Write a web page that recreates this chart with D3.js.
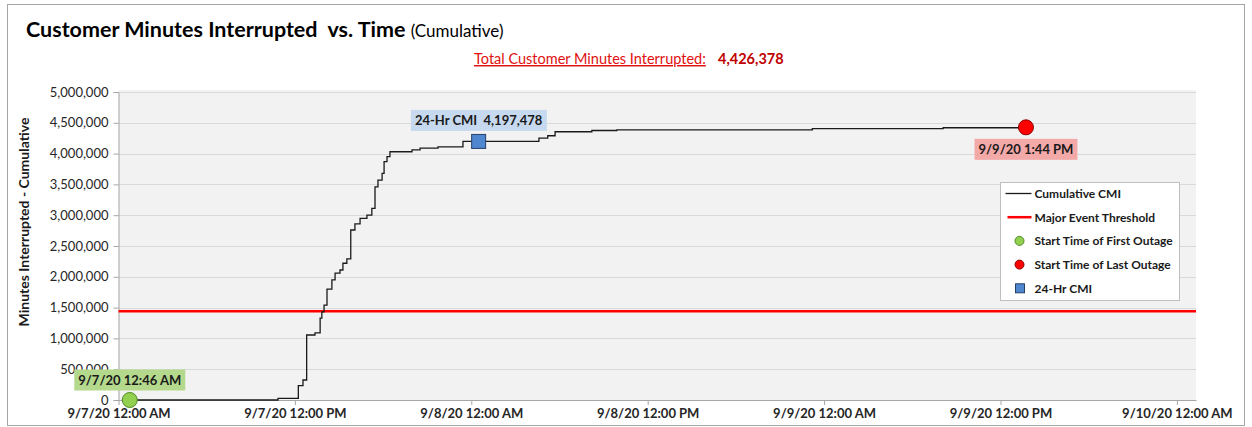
<!DOCTYPE html>
<html>
<head>
<meta charset="utf-8">
<script src="https://cdn.jsdelivr.net/npm/d3@7"></script>
<style>
  html, body { margin: 0; padding: 0; background: #ffffff; }
  svg { display: block; font-family: Lato, "Open Sans", sans-serif; }
</style>
</head>
<body>
<svg id="chart" width="1252" height="427"></svg>
<script>
// Cumulative customer minutes interrupted (step series)
const stepTimes = [
  "2020-09-07 00:46", "2020-09-07 10:51", "2020-09-07 12:14", "2020-09-07 12:33",
  "2020-09-07 12:48", "2020-09-07 13:22", "2020-09-07 13:43", "2020-09-07 13:50",
  "2020-09-07 13:59", "2020-09-07 14:11", "2020-09-07 14:31", "2020-09-07 14:44",
  "2020-09-07 15:04", "2020-09-07 15:16", "2020-09-07 15:32", "2020-09-07 15:48",
  "2020-09-07 16:05", "2020-09-07 16:26", "2020-09-07 16:54", "2020-09-07 17:14",
  "2020-09-07 17:27", "2020-09-07 17:39", "2020-09-07 17:56", "2020-09-07 18:04",
  "2020-09-07 18:16", "2020-09-07 18:28", "2020-09-07 19:58", "2020-09-07 20:31",
  "2020-09-07 21:44", "2020-09-07 23:26", "2020-09-08 04:36", "2020-09-08 05:12",
  "2020-09-08 05:42", "2020-09-08 08:12", "2020-09-08 09:54", "2020-09-08 23:12",
  "2020-09-09 08:06", "2020-09-09 13:44"
];
const cumulativeCMI = [
  0, 28000, 232000, 325000,
  1055000, 1090000, 1330000, 1430000,
  1540000, 1800000, 1950000, 2060000,
  2110000, 2220000, 2290000, 2760000,
  2860000, 2950000, 3000000, 3110000,
  3460000, 3570000, 3680000, 3870000,
  3950000, 4030000, 4060000, 4090000,
  4110000, 4197478, 4250000, 4290000,
  4355000, 4375000, 4385000, 4405000,
  4420000, 4426378
];

const majorEventThreshold = 1440000;
const totalCMI = 4426378;

const firstOutage = { time: "2020-09-07 00:46", value: 0, label: "9/7/20 12:46 AM" };
const lastOutage = { time: "2020-09-09 13:44", value: 4426378, label: "9/9/20 1:44 PM" };
const dayCMI = { time: "2020-09-08 00:30", value: 4197478, label: "24-Hr CMI  4,197,478" };

const yTicks = [0, 500000, 1000000, 1500000, 2000000, 2500000, 3000000, 3500000, 4000000, 4500000, 5000000];
const xTickTimes = ["2020-09-07 00:00", "2020-09-07 12:00", "2020-09-08 00:00", "2020-09-08 12:00",
                    "2020-09-09 00:00", "2020-09-09 12:00", "2020-09-10 00:00"];
const xDomain = ["2020-09-07 00:00", "2020-09-10 01:18"];

const legendItems = ["Cumulative CMI", "Major Event Threshold", "Start Time of First Outage",
                     "Start Time of Last Outage", "24-Hr CMI"];

const parse = d3.timeParse("%Y-%m-%d %H:%M");
const fmtTick = d => d3.timeFormat("%-m/%-d/%y %-I:%M %p")(d);

const svg = d3.select("#chart");
const plot = { left: 118.5, right: 1196, top: 92, bottom: 400 };

const x = d3.scaleTime().domain(xDomain.map(parse)).range([plot.left, plot.right]);
const y = d3.scaleLinear().domain([0, 5000000]).range([plot.bottom, plot.top]);

// chart frame
svg.append("rect").attr("x", 7.5).attr("y", 4.5).attr("width", 1237).attr("height", 421)
  .attr("fill", "#fff").attr("stroke", "#a6a6a6").attr("stroke-width", 1);

// plot background
svg.append("rect").attr("x", plot.left).attr("y", plot.top - 2)
  .attr("width", plot.right - plot.left).attr("height", plot.bottom - plot.top + 2)
  .attr("fill", "#f2f2f2");

// horizontal gridlines
svg.append("g").selectAll("line").data(yTicks.filter(v => v > 0)).join("line")
  .attr("x1", plot.left).attr("x2", plot.right)
  .attr("y1", d => Math.round(y(d)) + 0.5).attr("y2", d => Math.round(y(d)) + 0.5)
  .attr("stroke", "#d9d9d9").attr("stroke-width", 1);

// y axis
const yAxis = svg.append("g").attr("transform", `translate(${plot.left},0)`)
  .call(d3.axisLeft(y).tickValues(yTicks).tickFormat(d3.format(",")).tickSize(5).tickPadding(5));
yAxis.select(".domain").attr("stroke", "#a6a6a6");
yAxis.selectAll(".tick line").attr("stroke", "#a6a6a6");
yAxis.selectAll("text").attr("font-size", 13).attr("fill", "#262626")
  .attr("font-family", "Lato, sans-serif");

// x axis
const xAxis = svg.append("g").attr("transform", `translate(0,${plot.bottom})`)
  .call(d3.axisBottom(x).tickValues(xTickTimes.map(parse)).tickFormat(fmtTick).tickSize(5).tickPadding(4).tickSizeOuter(0));
xAxis.select(".domain").attr("stroke", "#a6a6a6");
xAxis.selectAll(".tick line").attr("stroke", "#a6a6a6");
xAxis.selectAll("text").attr("font-size", 13).attr("font-weight", "bold").attr("fill", "#262626")
  .attr("font-family", "Lato, sans-serif");

// major event threshold
svg.append("line").attr("x1", plot.left).attr("x2", plot.right)
  .attr("y1", y(majorEventThreshold)).attr("y2", y(majorEventThreshold))
  .attr("stroke", "#ff0000").attr("stroke-width", 2.5);

// cumulative CMI step line
const series = stepTimes.map((t, i) => ({ t: parse(t), v: cumulativeCMI[i] }));
svg.append("path").datum(series)
  .attr("fill", "none").attr("stroke", "#1a1a1a").attr("stroke-width", 1.3)
  .attr("d", d3.line().x(d => x(d.t)).y(d => y(d.v)).curve(d3.curveStepAfter));

// labelled callout helper
function callout(cx, cy, text, bg) {
  const g = svg.append("g");
  const t = g.append("text").attr("x", cx).attr("y", cy).attr("text-anchor", "middle")
    .attr("dominant-baseline", "central").attr("font-size", 13).attr("font-weight", "bold")
    .attr("fill", "#1a1a1a").attr("xml:space", "preserve").text(text);
  const b = t.node().getBBox();
  g.insert("rect", "text").attr("x", b.x - 4).attr("y", cy - 10.5)
    .attr("width", b.width + 8).attr("height", 21).attr("fill", bg);
}

// first outage
const fx = x(parse(firstOutage.time)), fy = y(firstOutage.value);
callout(fx, fy - 20, firstOutage.label, "#b4d98d");
svg.append("circle").attr("cx", fx).attr("cy", fy).attr("r", 7.5)
  .attr("fill", "#92d050").attr("stroke", "#4e8a26").attr("stroke-width", 1);

// 24-hr CMI
const dx = x(parse(dayCMI.time)), dy = y(dayCMI.value);
callout(dx, dy - 21, dayCMI.label, "#c6d9ef");
svg.append("rect").attr("x", dx - 7).attr("y", dy - 7).attr("width", 14).attr("height", 14)
  .attr("fill", "#4f86d0").attr("stroke", "#25406a").attr("stroke-width", 1);

// last outage
const lx = x(parse(lastOutage.time)), ly = y(lastOutage.value);
callout(lx, ly + 22, lastOutage.label, "#f4a9a9");
svg.append("circle").attr("cx", lx).attr("cy", ly).attr("r", 7.5)
  .attr("fill", "#ff0000").attr("stroke", "#8b0000").attr("stroke-width", 1);

// title
const title = svg.append("text").attr("x", 26).attr("y", 37).attr("fill", "#000");
title.append("tspan").attr("font-size", 21.5).attr("font-weight", "bold")
  .attr("xml:space", "preserve").text("Customer Minutes Interrupted  vs. Time ");
title.append("tspan").attr("font-size", 17).text("(Cumulative)");

// total line
svg.append("text").attr("x", 474).attr("y", 64).attr("font-size", 14.5).attr("fill", "#e01010")
  .attr("text-decoration", "underline").text("Total Customer Minutes Interrupted:");
svg.append("text").attr("x", 718).attr("y", 64).attr("font-size", 14.5).attr("font-weight", "bold")
  .attr("fill", "#c00000").text(d3.format(",")(totalCMI));

// y axis title
svg.append("text").attr("transform", "translate(29,222) rotate(-90)")
  .attr("text-anchor", "middle").attr("font-size", 14).attr("font-weight", "bold")
  .attr("fill", "#1a1a1a").text("Minutes Interrupted - Cumulative");

// legend
const lg = svg.append("g").attr("transform", "translate(1000.5,182.5)");
lg.append("rect").attr("width", 179).attr("height", 118).attr("fill", "#fff").attr("stroke", "#bfbfbf");
legendItems.forEach((name, i) => {
  const cy = 11 + i * 23.7;
  const row = lg.append("g").attr("transform", `translate(0,${cy})`);
  if (i === 0) row.append("line").attr("x1", 5).attr("x2", 31).attr("stroke", "#1a1a1a").attr("stroke-width", 1.3);
  if (i === 1) row.append("line").attr("x1", 7).attr("x2", 31).attr("stroke", "#ff0000").attr("stroke-width", 2.5);
  if (i === 2) row.append("circle").attr("cx", 19).attr("r", 4.5).attr("fill", "#92d050").attr("stroke", "#4e8a26");
  if (i === 3) row.append("circle").attr("cx", 19).attr("r", 4.5).attr("fill", "#ff0000").attr("stroke", "#8b0000");
  if (i === 4) row.append("rect").attr("x", 15).attr("y", -4.5).attr("width", 9).attr("height", 9)
    .attr("fill", "#4f86d0").attr("stroke", "#25406a");
  row.append("text").attr("x", 34).attr("dominant-baseline", "central")
    .attr("font-size", 12).attr("font-weight", "bold").attr("fill", "#1a1a1a").text(name);
});
</script>
</body>
</html>
